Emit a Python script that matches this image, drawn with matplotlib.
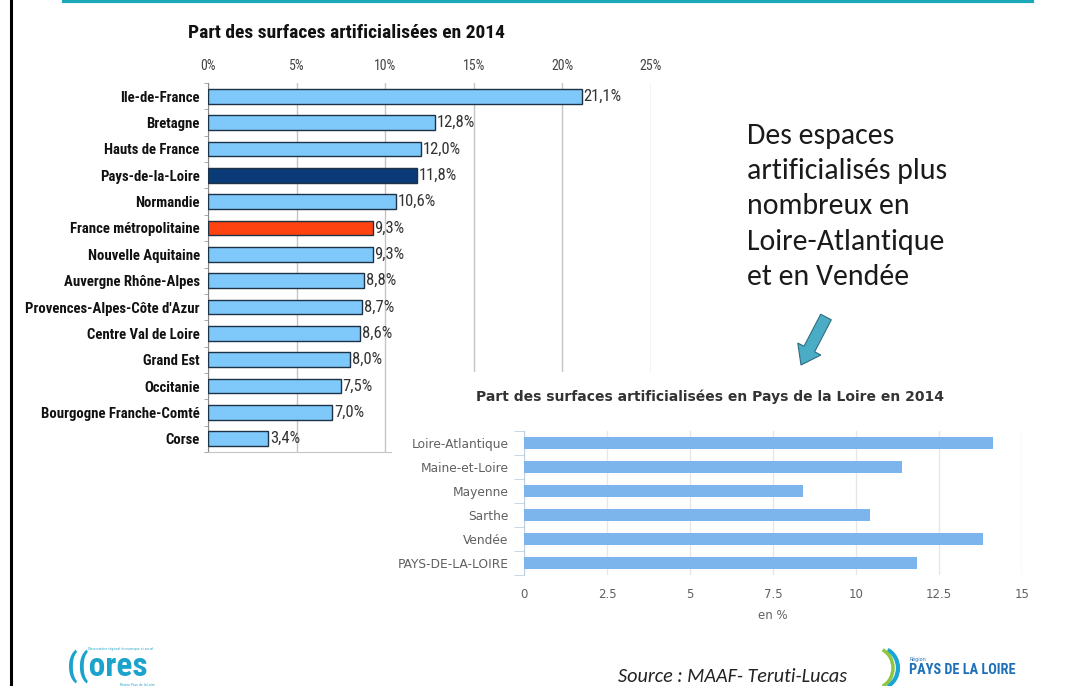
import matplotlib
matplotlib.use("Agg")
from matplotlib import pyplot as plt
from matplotlib import font_manager
from matplotlib.patches import Rectangle, FancyArrow, Arc
from matplotlib.transforms import IdentityTransform
import numpy as np

# data - national chart
regions = ["Ile-de-France", "Bretagne", "Hauts de France", "Pays-de-la-Loire",
           "Normandie", "France métropolitaine", "Nouvelle Aquitaine",
           "Auvergne Rhône-Alpes", "Provences-Alpes-Côte d'Azur",
           "Centre Val de Loire", "Grand Est", "Occitanie",
           "Bourgogne Franche-Comté", "Corse"]
shares = [21.1, 12.8, 12.0, 11.8, 10.6, 9.3, 9.3, 8.8, 8.7, 8.6, 8.0, 7.5, 7.0, 3.4]
top_ticks = [0, 5, 10, 15, 20, 25]

# data - Pays de la Loire chart
depts = ["Loire-Atlantique", "Maine-et-Loire", "Mayenne", "Sarthe", "Vendée",
         "PAYS-DE-LA-LOIRE"]
dept_shares = [14.12, 11.4, 8.4, 10.43, 13.83, 11.83]
bottom_ticks = [0, 2.5, 5, 7.5, 10, 12.5, 15]

names = {f.name for f in font_manager.fontManager.ttflist}


def pick(cands, default="DejaVu Sans"):
    for c in cands:
        if c in names:
            return c
    return default


narrow = pick(["Roboto Condensed", "Barlow Condensed", "Archivo Narrow", "Asap Condensed"])
calibri = pick(["Carlito", "Open Sans"])

W, H = 1071, 686
fig = plt.figure(figsize=(W / 100, H / 100), dpi=100)


def fx(x):
    return x / W


def fy(y):
    return 1 - y / H


# slide decorations
fig.add_artist(plt.Line2D([fx(11), fx(11)], [0, 1], color="black", lw=2.2))
fig.add_artist(plt.Line2D([fx(64), fx(1032)], [fy(1), fy(1)], color="#1BA8B8", lw=3))

# ---- top chart
ax = fig.add_axes([fx(208), fy(452), fx(651) - fx(208), fy(83) - fy(452)])
colors = ["#7EC8FA"] * len(regions)
colors[regions.index("Pays-de-la-Loire")] = "#0B3A78"
colors[regions.index("France métropolitaine")] = "#FF4310"
y = np.arange(len(regions))
ax.barh(y, shares, height=0.56, color=colors, edgecolor="#1E3246", linewidth=1, zorder=3)
for yi, v in zip(y, shares):
    ax.text(v + 0.1, yi, ("%.1f%%" % v).replace(".", ","), va="center", ha="left",
            fontsize=12, family=narrow, color="#333333")
ax.set_xlim(0, 25)
ax.set_ylim(len(regions) - 0.5, -0.5)
ax.set_xticks(top_ticks)
ax.set_xticklabels(["%d%%" % t for t in top_ticks], family=narrow, fontsize=10, color="#444444")
ax.xaxis.tick_top()
ax.tick_params(axis="x", length=0, pad=7)
ax.set_yticks(y)
ax.set_yticklabels(regions, family=narrow, fontweight="bold", fontsize=10.6, color="#111111")
ax.tick_params(axis="y", length=0, pad=6)
ax.set_yticks(np.arange(len(regions) + 1) - 0.5, minor=True)
ax.tick_params(axis="y", which="minor", length=3, color="#999999", direction="out")
ax.grid(axis="x", color="#C4C4C4", lw=1, zorder=0)
for s in ["top", "right"]:
    ax.spines[s].set_visible(False)
ax.spines["left"].set_color("#888888")
ax.spines["bottom"].set_color("#C4C4C4")
fig.text(fx(346), fy(33), "Part des surfaces artificialisées en 2014", ha="center", va="center",
         family=narrow, fontweight="bold", fontsize=14, color="#111111")

# white area of the pasted second chart
fig.add_artist(Rectangle((fx(392), fy(630)), fx(1050) - fx(392), fy(372) - fy(630),
                         transform=fig.transFigure, facecolor="white", edgecolor="none", zorder=2))

# ---- bottom chart
ax2 = fig.add_axes([fx(524), fy(575), fx(1022) - fx(524), fy(431) - fy(575)], zorder=3)
y2 = np.arange(len(depts))
ax2.barh(y2, dept_shares, height=0.5, color="#7CB5EC", zorder=3)
ax2.set_xlim(0, 15)
ax2.set_ylim(len(depts) - 0.5, -0.5)
ax2.set_xticks(bottom_ticks)
ax2.set_xticklabels(["%g" % t for t in bottom_ticks], fontsize=8.5, color="#606060")
ax2.tick_params(axis="x", length=0, pad=9)
ax2.set_yticks(y2)
ax2.set_yticklabels(depts, fontsize=8.8, color="#606060")
ax2.tick_params(axis="y", length=0, pad=11)
ax2.set_yticks(np.arange(len(depts) + 1) - 0.5, minor=True)
ax2.tick_params(axis="y", which="minor", length=7, color="#C0D0E0", direction="out")
ax2.grid(axis="x", color="#E6E6E6", lw=1, zorder=0)
for s in ["top", "right", "bottom"]:
    ax2.spines[s].set_visible(False)
ax2.spines["left"].set_color("#C0D0E0")
ax2.set_xlabel("en %", fontsize=8.5, color="#606060", labelpad=6)
fig.text(fx(710), fy(397), "Part des surfaces artificialisées en Pays de la Loire en 2014",
         ha="center", va="center", fontweight="bold", fontsize=10, color="#333333", zorder=4)

# ---- comment text and arrow
fig.text(fx(747), fy(123), "Des espaces\nartificialisés plus\nnombreux en\nLoire-Atlantique\net en Vendée",
         ha="left", va="top", family=calibri, fontsize=21.5, color="#1A1A1A",
         linespacing=1.44)
# arrow drawn in pixels (origin bottom-left)
fig.add_artist(FancyArrow(826, H - 317, -25, -48, width=12, head_width=26, head_length=18,
                          length_includes_head=True, transform=IdentityTransform(),
                          facecolor="#4BACC6", edgecolor="#2E6E80", lw=0.8))

# ---- footer
fig.text(fx(733), fy(676), "Source : MAAF- Teruti-Lucas", ha="center", va="center",
         family=calibri, style="italic", fontsize=14.5, color="#222222")
fig.text(fx(67), fy(676), "((ores", ha="left", va="baseline", family=narrow, fontweight="bold",
         fontsize=24, color="#1CA3CB")
fig.text(fx(88), fy(649), "Observatoire régional économique et social", ha="left", va="center",
         fontsize=2.2, color="#1CA3CB")
fig.text(fx(120), fy(685), "Région Pays de la Loire", ha="left", va="center",
         fontsize=2.2, color="#1CA3CB")
fig.add_artist(Arc((fx(880), fy(668)), fx(36), fy(648) - fy(688), theta1=-75, theta2=75,
                   transform=fig.transFigure, color="#1AA5D5", lw=3))
fig.add_artist(Arc((fx(875), fy(668)), fx(36), fy(648) - fy(688), theta1=-75, theta2=75,
                   transform=fig.transFigure, color="#8DC63F", lw=2.5))
fig.text(fx(910), fy(659), "Région", ha="left", va="center", fontsize=3.5, color="#1C6FB8")
fig.text(fx(909), fy(670), "PAYS DE LA LOIRE", ha="left", va="center", family=narrow,
         fontweight="bold", fontsize=10.3, color="#1C6FB8")

fig.savefig("out.png", dpi=100)
